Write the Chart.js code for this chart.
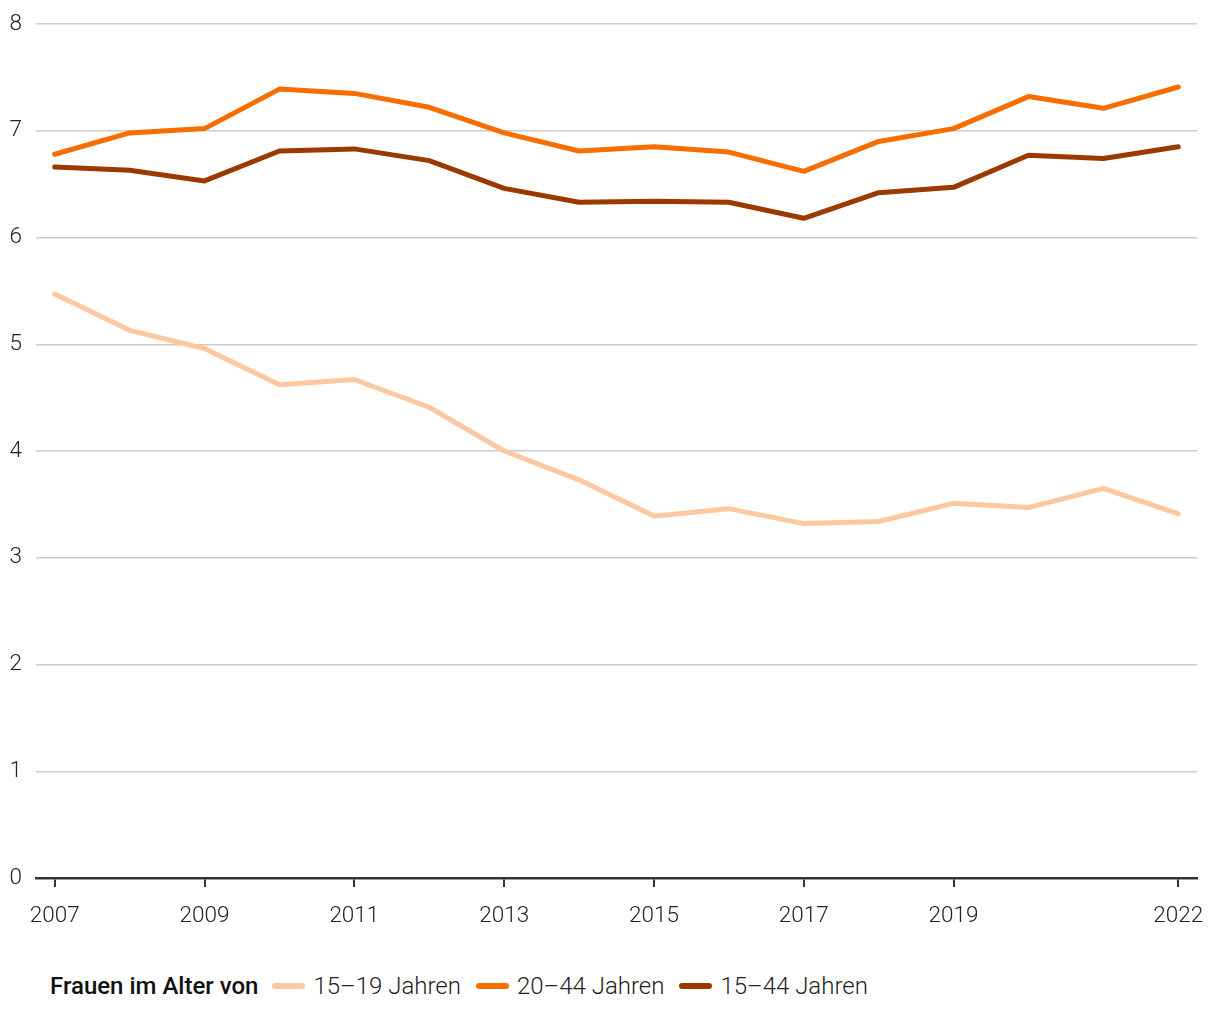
<!DOCTYPE html>
<html>
<head>
<meta charset="utf-8">
<script src="https://cdn.jsdelivr.net/npm/chart.js@4/dist/chart.umd.min.js"></script>
<style>
  body { margin: 0; background: #fff; font-family: Roboto, sans-serif; }
  #wrap { position: relative; width: 1220px; height: 938px; }
  #legend { position: absolute; left: 50px; top: 972px; height: 28px; display: flex; align-items: center; font-size: 24px; line-height: 28px; color: #222; }
  #legend .title { font-weight: 500; color: #111; margin-right: 14px; }
  #legend .item { display: flex; align-items: center; margin-right: 15px; font-weight: 300; }
  #legend .sw { width: 33px; height: 6px; border-radius: 3px; margin-right: 8px; }
</style>
</head>
<body>
<div id="wrap"><canvas id="chart"></canvas></div>
<div id="legend"></div>
<script>
// Jahre und Werte
const years = [2007, 2008, 2009, 2010, 2011, 2012, 2013, 2014, 2015, 2016, 2017, 2018, 2019, 2020, 2021, 2022];
const tickYears = [2007, 2009, 2011, 2013, 2015, 2017, 2019, 2022];
const seriesNames = ['15\u201319 Jahren', '20\u201344 Jahren', '15\u201344 Jahren'];
const seriesColors = ['#fdc8a0', '#f76e00', '#9b3a00'];
const werte1519 = [5.47, 5.13, 4.96, 4.62, 4.67, 4.41, 4.00, 3.73, 3.39, 3.46, 3.32, 3.34, 3.51, 3.47, 3.65, 3.41];
const werte2044 = [6.78, 6.98, 7.02, 7.39, 7.35, 7.22, 6.98, 6.81, 6.85, 6.80, 6.62, 6.90, 7.02, 7.32, 7.21, 7.41];
const werte1544 = [6.66, 6.63, 6.53, 6.81, 6.83, 6.72, 6.46, 6.33, 6.34, 6.33, 6.18, 6.42, 6.47, 6.77, 6.74, 6.85];
const legendTitle = 'Frauen im Alter von';

const allValues = [werte1519, werte2044, werte1544];

const datasets = allValues.map((vals, i) => ({
    label: seriesNames[i],
    data: vals.map((v, j) => ({ x: years[j], y: v })),
    borderColor: seriesColors[i],
    borderWidth: 5,
    borderCapStyle: 'round',
    borderJoinStyle: 'round',
    pointRadius: 0,
    tension: 0,
    fill: false
}));

Chart.defaults.font.family = 'Roboto, sans-serif';
Chart.defaults.color = '#222';

new Chart(document.getElementById('chart'), {
    type: 'line',
    data: { datasets },
    options: {
        responsive: true,
        maintainAspectRatio: false,
        animation: false,
        layout: { padding: { top: 0, right: 23, left: 0, bottom: 0 } },
        plugins: { legend: { display: false }, tooltip: { enabled: false } },
        scales: {
            x: {
                type: 'linear',
                min: 2006.75,
                max: 2022.25,
                afterBuildTicks(scale) { scale.ticks = tickYears.map(v => ({ value: v })); },
                afterFit(scale) { scale.height = 60; },
                ticks: { font: { size: 22.5, weight: 300 }, color: '#222', padding: 16, callback: v => String(v) },
                grid: { drawOnChartArea: false, drawTicks: true, tickLength: 9, color: '#333', lineWidth: 2 },
                border: { display: true, color: '#333', width: 2.5 }
            },
            y: {
                min: 0,
                max: 8,
                afterFit(scale) { scale.width = 36; scale.paddingTop = 24; },
                ticks: { stepSize: 1, font: { size: 22.5, weight: 300, lineHeight: 1 }, color: '#222', padding: 14 },
                grid: { drawTicks: false, color: '#cccccc', lineWidth: 1.5 },
                border: { display: false }
            }
        }
    }
});

// Legende
const leg = document.getElementById('legend');
leg.innerHTML = '<span class="title">' + legendTitle + '</span>' +
    seriesNames.map((n, i) => '<span class="item"><span class="sw" style="background:' + seriesColors[i] + '"></span>' + n + '</span>').join('');
</script>
</body>
</html>
